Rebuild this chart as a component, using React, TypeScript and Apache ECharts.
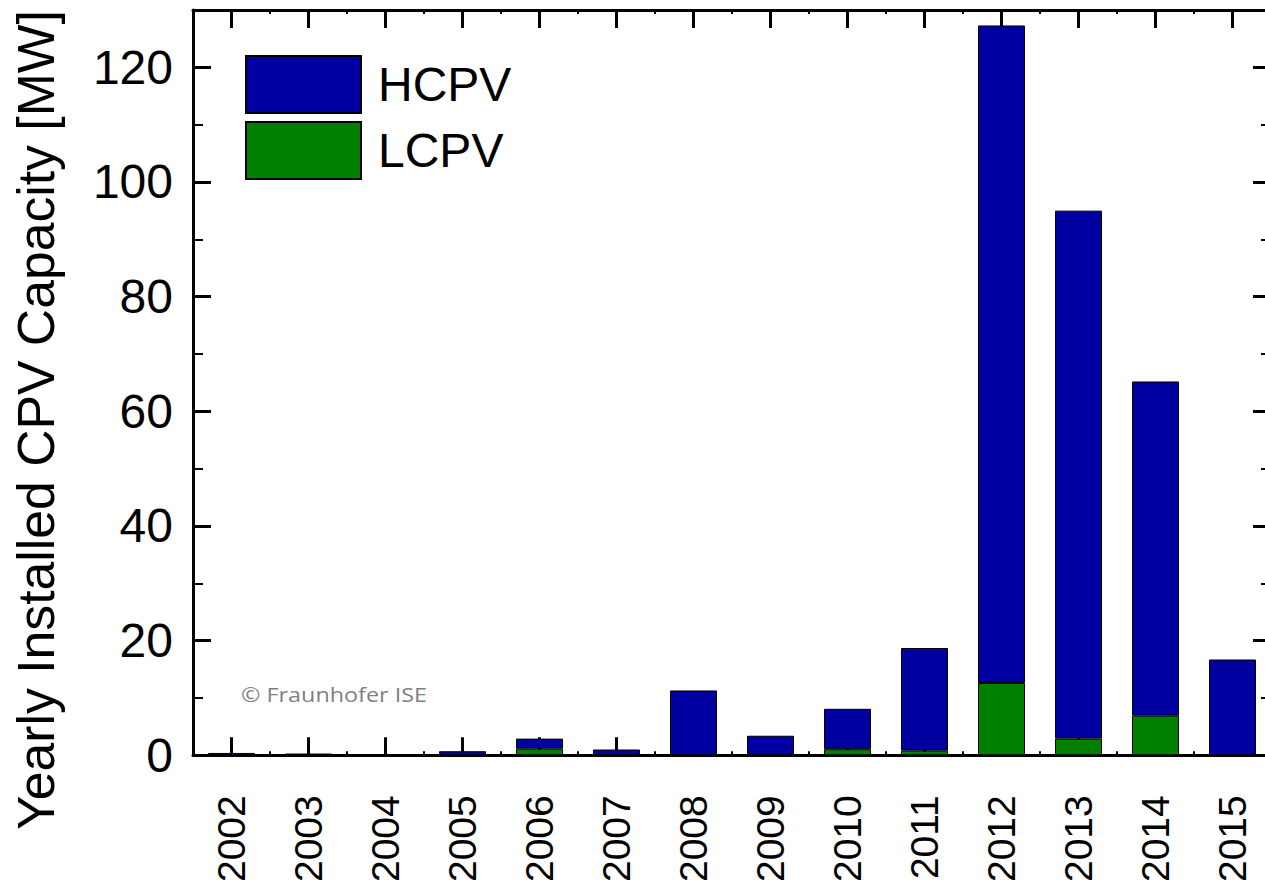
import React, { useEffect, useRef } from "react";
import * as echarts from "echarts";

const years = ["2002", "2003", "2004", "2005", "2006", "2007", "2008", "2009", "2010", "2011", "2012", "2013", "2014", "2015"];
const lcpv = [0, 0, 0, 0, 1.15, 0, 0, 0.1, 1.05, 0.8, 12.6, 2.9, 6.9, 0];
const hcpv = [0.4, 0.3, 0, 0.7, 1.75, 1.0, 11.3, 3.3, 7.05, 17.9, 114.7, 92.1, 58.3, 16.7];
const yMax = 130;
const yMajor = 20;
const yMinor = 10;
const yTitle = "Yearly Installed CPV Capacity [MW]";
const credit = "© Fraunhofer ISE";

const SANS = '"Liberation Sans", Arial, Helvetica, sans-serif';

function measure(text: string, font: string): number {
  const c = document.createElement("canvas").getContext("2d");
  if (!c) return 0;
  c.font = font;
  return c.measureText(text).width;
}

export default function App() {
  const ref = useRef<HTMLDivElement>(null);
  useEffect(() => {
    if (!ref.current) return;
    const chart = echarts.init(ref.current, null, { renderer: "svg" });
    const black = "#000";
    const titleW = measure(yTitle, '51px "Liberation Sans", Arial, sans-serif') || 900;
    const titleScale = 820 / titleW;
    const creditW = measure(credit, '20px "Open Sans", "Noto Sans", sans-serif') || 160;
    const creditScale = 186 / creditW;

    const catAxis = (position: string, major: boolean, showLine: boolean, showLabel: boolean) => ({
      type: "category",
      data: years,
      position,
      boundaryGap: true,
      axisLine: { show: showLine, onZero: false, lineStyle: { color: black, width: 3 } },
      axisTick: major
        ? { show: true, inside: true, length: 18, alignWithLabel: true, lineStyle: { color: black, width: 3 } }
        : { show: true, inside: true, length: 4, alignWithLabel: false, lineStyle: { color: black, width: 2 } },
      axisLabel: showLabel
        ? { show: true, rotate: 90, fontSize: 39, color: black, margin: 40, fontFamily: SANS }
        : { show: false },
      splitLine: { show: false },
    });
    const valAxis = (position: string, major: boolean, showLine: boolean, showLabel: boolean) => ({
      type: "value",
      position,
      min: 0,
      max: yMax,
      interval: major ? yMajor : yMinor,
      axisLine: { show: showLine, onZero: false, lineStyle: { color: black, width: 3 } },
      axisTick: major
        ? { show: true, inside: true, length: 18, lineStyle: { color: black, width: 3 } }
        : { show: true, inside: true, length: 10, lineStyle: { color: black, width: 2 } },
      axisLabel: showLabel
        ? { show: true, fontSize: 48, color: black, margin: 20, fontFamily: SANS, showMaxLabel: false }
        : { show: false },
      splitLine: { show: false },
    });
    chart.setOption({
      animation: false,
      backgroundColor: "#fff",
      grid: { left: 193, right: 10, top: 10, bottom: 127, containLabel: false },
      xAxis: [
        catAxis("bottom", true, true, true),
        catAxis("bottom", false, false, false),
        catAxis("top", true, true, false),
        catAxis("top", false, false, false),
      ],
      yAxis: [
        valAxis("left", true, true, true),
        valAxis("left", false, false, false),
        valAxis("right", true, true, false),
        valAxis("right", false, false, false),
      ],
      legend: {
        show: true,
        orient: "vertical",
        left: 245,
        top: 55,
        padding: 0,
        itemWidth: 115,
        itemHeight: 57,
        itemGap: 7,
        icon: "rect",
        data: ["HCPV", "LCPV"],
        textStyle: { fontSize: 48, color: black, fontFamily: SANS, padding: [0, 0, 0, 12] },
      },
      graphic: [
        {
          type: "text",
          x: 37,
          y: 420,
          rotation: Math.PI / 2,
          scaleX: titleScale,
          style: {
            text: yTitle,
            fontSize: 51,
            fontFamily: SANS,
            fill: black,
            align: "center",
            verticalAlign: "middle",
          },
        },
        {
          type: "text",
          x: 241,
          y: 694,
          scaleX: creditScale,
          style: {
            text: credit,
            fontSize: 20,
            fontFamily: '"Open Sans", "Noto Sans", sans-serif',
            fill: "#7f7f7f",
            align: "left",
            verticalAlign: "middle",
          },
        },
      ],
      series: [
        {
          name: "LCPV",
          type: "bar",
          stack: "total",
          xAxisIndex: 0,
          yAxisIndex: 0,
          barWidth: 47,
          data: lcpv,
          itemStyle: { color: "#008000", borderColor: black, borderWidth: 1 },
        },
        {
          name: "HCPV",
          type: "bar",
          stack: "total",
          xAxisIndex: 0,
          yAxisIndex: 0,
          barWidth: 47,
          data: hcpv,
          itemStyle: { color: "#0000a0", borderColor: black, borderWidth: 1 },
        },
      ],
    });
    return () => chart.dispose();
  }, []);
  return (
    <div style={{ position: "fixed", left: 0, top: 0, width: 1265, height: 885, overflow: "hidden", background: "#fff" }}>
      <div ref={ref} style={{ width: 1281, height: 885 }} />
    </div>
  );
}
